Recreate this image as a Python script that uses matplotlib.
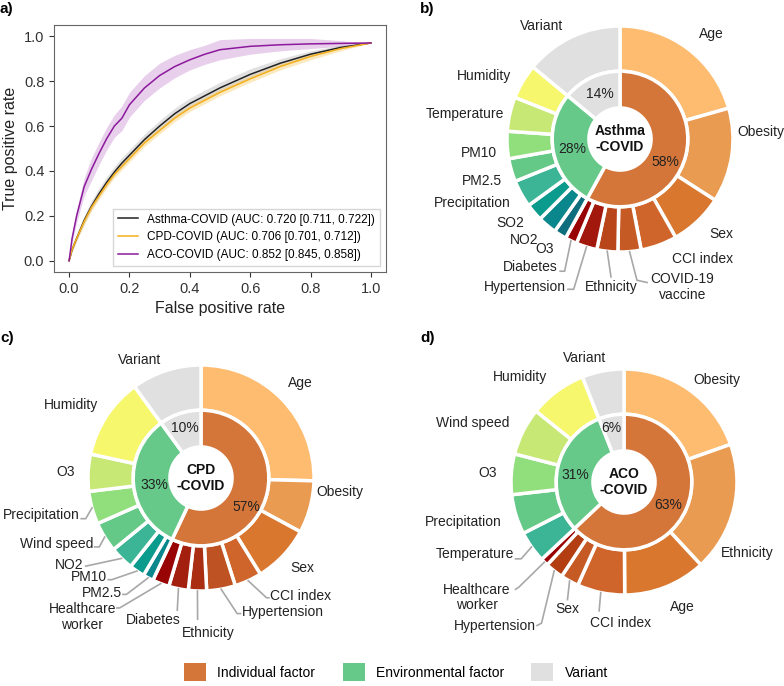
import numpy as np
import matplotlib
matplotlib.use('Agg')
import matplotlib.pyplot as plt
from matplotlib.patches import Patch

plt.rcParams['font.family'] = ['Liberation Sans', 'DejaVu Sans']

# ---- panel a: ROC curves ----
fpr = [0, .01, .025, .05, .075, .1, .125, .15, .175, .2, .25, .3, .35, .4, .45, .5, .6, .7, .8, .9, 1.0]
asthma_tpr = [0, .05, .10, .18, .245, .30, .35, .395, .435, .47, .54, .60, .655, .70, .735, .77, .83, .88, .92, .95, .97]
asthma_lo = [0, .04, .09, .165, .23, .285, .335, .38, .42, .455, .525, .585, .64, .685, .72, .755, .815, .87, .91, .945, .97]
asthma_hi = [0, .06, .115, .20, .27, .325, .375, .42, .46, .495, .565, .625, .68, .725, .76, .795, .855, .90, .935, .96, .97]
cpd_tpr = [0, .05, .10, .175, .24, .29, .34, .385, .42, .455, .525, .58, .635, .68, .715, .75, .81, .865, .91, .945, .97]
cpd_lo = [0, .04, .088, .16, .225, .275, .325, .37, .405, .44, .51, .565, .62, .665, .70, .735, .795, .85, .895, .935, .97]
cpd_hi = [0, .06, .112, .19, .255, .305, .355, .40, .435, .47, .54, .595, .65, .695, .73, .765, .825, .88, .922, .953, .97]
aco_tpr = [0, .10, .20, .33, .41, .48, .545, .60, .635, .695, .77, .825, .865, .895, .92, .94, .955, .962, .966, .968, .97]
aco_lo = [0, .08, .17, .29, .36, .43, .495, .55, .58, .64, .715, .77, .815, .85, .875, .895, .92, .935, .945, .955, .97]
aco_hi = [0, .12, .23, .37, .46, .53, .595, .65, .69, .75, .825, .88, .915, .94, .96, .985, .99, .99, .99, .98, .97]
roc_labels = ['Asthma-COVID (AUC: 0.720 [0.711, 0.722])',
              'CPD-COVID (AUC: 0.706 [0.701, 0.712])',
              'ACO-COVID (AUC: 0.852 [0.845, 0.858])']

# ---- donut data ----
group_names = ['Individual factor', 'Environmental factor', 'Variant']
ind_color = '#d4763a'
env_color = '#66c98a'
var_color = '#e0e0e0'

b_ind_names = ['Age', 'Obesity', 'Sex', 'CCI index', 'COVID-19\nvaccine', 'Ethnicity', 'Hypertension', 'Diabetes']
b_ind_vals = [20.6, 13.5, 7.7, 5.2, 3.3, 3.0, 3.0, 1.7]
b_env_names = ['O3', 'NO2', 'SO2', 'Precipitation', 'PM2.5', 'PM10', 'Temperature', 'Humidity']
b_env_vals = [1.8, 2.7, 2.5, 3.9, 3.3, 3.9, 4.9, 5.0]
b_variant = 14
b_groups = [58, 28, 14]

c_ind_names = ['Age', 'Obesity', 'Sex', 'CCI index', 'Hypertension', 'Ethnicity', 'Diabetes', 'Healthcare\nworker']
c_ind_vals = [25.4, 7.5, 8.3, 3.9, 4.1, 2.6, 2.8, 2.4]
c_env_names = ['PM2.5', 'PM10', 'NO2', 'Wind speed', 'Precipitation', 'O3', 'Humidity']
c_env_vals = [1.5, 2.2, 3.4, 4.3, 4.7, 5.3, 11.6]
c_variant = 10
c_groups = [57, 33, 10]

d_ind_names = ['Obesity', 'Ethnicity', 'Age', 'CCI index', 'Sex', 'Hypertension', 'Healthcare\nworker']
d_ind_vals = [19.6, 18.5, 11.8, 6.8, 2.6, 2.6, 1.1]
d_env_names = ['Temperature', 'Precipitation', 'O3', 'Wind speed', 'Humidity']
d_env_vals = [4.5, 5.7, 5.8, 6.8, 8.2]
d_variant = 6
d_groups = [63, 31, 6]

# colours
b_ind_cols = ['#fdbc70', '#ea9b52', '#d9772f', '#cf652a', '#c65a24', '#b8461a', '#a3180c', '#980404']
b_env_cols = ['#0f6e7d', '#0a878c', '#0a9b8c', '#3cb496', '#64c887', '#91de7d', '#c8e876', '#f7f76e']
c_ind_cols = ['#fdbc70', '#ea9b52', '#d9772f', '#cf652a', '#be5222', '#aa2e12', '#a3200e', '#980404']
c_env_cols = ['#0a878c', '#0a9b8c', '#3cb496', '#64c887', '#91de7d', '#c8e876', '#f7f76e']
d_ind_cols = ['#fdbc70', '#ea9b52', '#d9772f', '#cf652a', '#c65a24', '#b23e12', '#980404']
d_env_cols = ['#3cb496', '#64c887', '#91de7d', '#c8e876', '#f7f76e']

# label layout: name -> (x, y, ha, leader points)
b_layout = {
    'Age': (0.81, 0.93, 'center', None), 'Obesity': (1.04, 0.06, 'left', None),
    'Sex': (0.90, -0.84, 'center', None), 'CCI index': (0.73, -1.06, 'center', None),
    'COVID-19\nvaccine': (0.55, -1.31, 'center', [(0.15, -1.25), (0.24, -1.27)]),
    'Ethnicity': (-0.08, -1.31, 'center', [(-0.08, -1.22)]),
    'Hypertension': (-0.48, -1.31, 'right', [(-0.41, -1.33), (-0.46, -1.33)]),
    'Diabetes': (-0.55, -1.13, 'right', [(-0.49, -1.17), (-0.53, -1.17)]),
    'O3': (-0.67, -0.97, 'center', None), 'NO2': (-0.85, -0.89, 'center', None),
    'SO2': (-0.97, -0.74, 'center', None), 'Precipitation': (-1.31, -0.57, 'center', None),
    'PM2.5': (-1.22, -0.37, 'center', None), 'PM10': (-1.25, -0.12, 'center', None),
    'Temperature': (-1.37, 0.22, 'center', None), 'Humidity': (-1.20, 0.56, 'center', None),
    'Variant': (-0.69, 1.0, 'center', None),
    'pct': [(0.40, -0.20), (-0.42, -0.09), (-0.18, 0.40)],
}
c_layout = {
    'Variant': (-0.54, 1.04, 'center', None), 'Age': (0.88, 0.84, 'center', None),
    'Humidity': (-1.15, 0.65, 'center', None), 'O3': (-1.20, 0.05, 'center', None),
    'Obesity': (1.23, -0.12, 'center', None), 'Sex': (0.90, -0.80, 'center', None),
    'Precipitation': (-1.07, -0.33, 'right', [(-1.02, -0.36), (-1.06, -0.36)]),
    'Wind speed': (-0.95, -0.58, 'right', [(-0.90, -0.61), (-0.94, -0.61)]),
    'NO2': (-1.04, -0.77, 'right', [(-1.02, -0.78)]),
    'PM10': (-0.835, -0.88, 'right', [(-0.79, -0.90), (-0.82, -0.90)]),
    'PM2.5': (-0.70, -1.02, 'right', [(-0.66, -1.03), (-0.69, -1.03)]),
    'Healthcare\nworker': (-1.05, -1.23, 'center', [(-0.72, -1.15), (-0.745, -1.15)]),
    'Diabetes': (-0.42, -1.26, 'center', [(-0.21, -1.17)]),
    'Ethnicity': (0.06, -1.37, 'center', [(-0.03, -1.25)]),
    'Hypertension': (0.36, -1.19, 'left', [(0.32, -1.20), (0.35, -1.20)]),
    'CCI index': (0.61, -1.04, 'left', [(0.58, -1.06), (0.60, -1.06)]),
    'pct': [(0.40, -0.26), (-0.41, -0.06), (-0.14, 0.44)],
}
d_layout = {
    'Variant': (-0.35, 1.10, 'center', None), 'Obesity': (0.82, 0.90, 'center', None),
    'Humidity': (-0.92, 0.93, 'center', None), 'Wind speed': (-1.34, 0.52, 'center', None),
    'O3': (-1.21, 0.08, 'center', None), 'Precipitation': (-1.42, -0.35, 'center', None),
    'Ethnicity': (1.09, -0.63, 'center', None), 'Age': (0.52, -1.11, 'center', None),
    'Temperature': (-0.97, -0.64, 'right', [(-0.91, -0.68), (-0.96, -0.68)]),
    'Healthcare\nworker': (-1.30, -1.02, 'center', [(-0.93, -0.93), (-0.96, -0.95)]),
    'Hypertension': (-0.78, -1.27, 'right', [(-0.73, -1.25), (-0.77, -1.27)]),
    'Sex': (-0.50, -1.12, 'center', [(-0.50, -1.04)]),
    'CCI index': (-0.03, -1.25, 'center', [(-0.22, -1.14)]),
    'pct': [(0.39, -0.20), (-0.43, 0.06), (-0.11, 0.48)],
}

W, H = 784, 686
fig = plt.figure(figsize=(W / 100, H / 100), dpi=100)

# ---- a) ROC ----
ax = fig.add_axes([54 / W, 1 - 272 / H, 332 / W, 247 / H])
ax.fill_between(fpr, asthma_lo, asthma_hi, color='#bdbdbd', alpha=0.45, lw=0)
ax.fill_between(fpr, cpd_lo, cpd_hi, color='#f5b82e', alpha=0.3, lw=0)
ax.fill_between(fpr, aco_lo, aco_hi, color='#a640b4', alpha=0.25, lw=0)
ax.plot(fpr, asthma_tpr, color='#222222', lw=1.1, label=roc_labels[0])
ax.plot(fpr, cpd_tpr, color='#f5b01e', lw=1.1, label=roc_labels[1])
ax.plot(fpr, aco_tpr, color='#8c1a9c', lw=1.1, label=roc_labels[2])
ax.set_xlim(-0.05, 1.05)
ax.set_ylim(-0.05, 1.05)
ax.set_xticks(np.arange(0, 1.01, 0.2))
ax.set_yticks(np.arange(0, 1.01, 0.2))
ax.tick_params(labelsize=10.5, colors='#333333')
for s in ax.spines.values():
    s.set_color('#666666')
ax.set_xlabel('False positive rate', fontsize=11.5, color='#222222')
ax.set_ylabel('True positive rate', fontsize=11.5, color='#222222')
ax.legend(loc='lower right', fontsize=8.5, handlelength=1.7, edgecolor='#cccccc', fancybox=False)

# ---- donuts ----
R = 113
L = 1.75


def donut(cx, cy, ind_names, ind_vals, ind_cols, env_names, env_vals, env_cols,
          variant, groups, title, layout):
    half = L * R
    a = fig.add_axes([(cx - half) / W, (H - cy - half) / H, 2 * half / W, 2 * half / H])
    names = ind_names + env_names + ['Variant']
    vals = ind_vals + env_vals + [variant]
    cols = ind_cols + env_cols + [var_color]
    wedges, _ = a.pie(vals, radius=1, startangle=90, counterclock=False, colors=cols,
                      wedgeprops=dict(width=0.4, edgecolor='white', linewidth=2.5))
    a.pie(groups, radius=0.6, startangle=90, counterclock=False,
          colors=[ind_color, env_color, var_color],
          wedgeprops=dict(width=0.325, edgecolor='white', linewidth=2.5))
    for g, (px, py) in zip(groups, layout['pct']):
        a.text(px, py, f'{g}%', ha='center', va='center', fontsize=10, color='#222222')
    a.text(0, 0, title, ha='center', va='center', fontsize=10, fontweight='bold',
           linespacing=1.15, color='#111111')
    for w, name in zip(wedges, names):
        x, y, ha, pts = layout[name]
        a.text(x, y, name, ha=ha, va='center', fontsize=10, multialignment='center',
               color='#222222', linespacing=1.1)
        if pts:
            th = np.deg2rad((w.theta1 + w.theta2) / 2)
            xs = [np.cos(th)] + [p[0] for p in pts]
            ys = [np.sin(th)] + [p[1] for p in pts]
            a.plot(xs, ys, color='#a8a8a8', lw=1.2, clip_on=False)
    a.set_xlim(-L, L)
    a.set_ylim(-L, L)
    a.set_aspect('equal')
    a.axis('off')


donut(620, 139, b_ind_names, b_ind_vals, b_ind_cols, b_env_names, b_env_vals, b_env_cols,
      b_variant, b_groups, 'Asthma\n-COVID', b_layout)
donut(201, 478, c_ind_names, c_ind_vals, c_ind_cols, c_env_names, c_env_vals, c_env_cols,
      c_variant, c_groups, 'CPD\n-COVID', c_layout)
donut(624, 482, d_ind_names, d_ind_vals, d_ind_cols, d_env_names, d_env_vals, d_env_cols,
      d_variant, d_groups, 'ACO\n-COVID', d_layout)

# panel letters
for lab, x, y in [('a)', 0, 9), ('b)', 420, 9), ('c)', 0, 338), ('d)', 420, 338)]:
    fig.text(x / W, 1 - y / H, lab, fontsize=11, fontweight='bold', ha='left', va='center')

handles = [Patch(facecolor=c, label=n) for c, n in zip([ind_color, env_color, var_color], group_names)]
fig.legend(handles=handles, loc='center', bbox_to_anchor=(396 / W, 1 - 672 / H), ncol=3,
           frameon=False, fontsize=10, handlelength=1.6, handleheight=1.6,
           handletextpad=0.8, columnspacing=1.95)

fig.savefig('out.png', dpi=100)
